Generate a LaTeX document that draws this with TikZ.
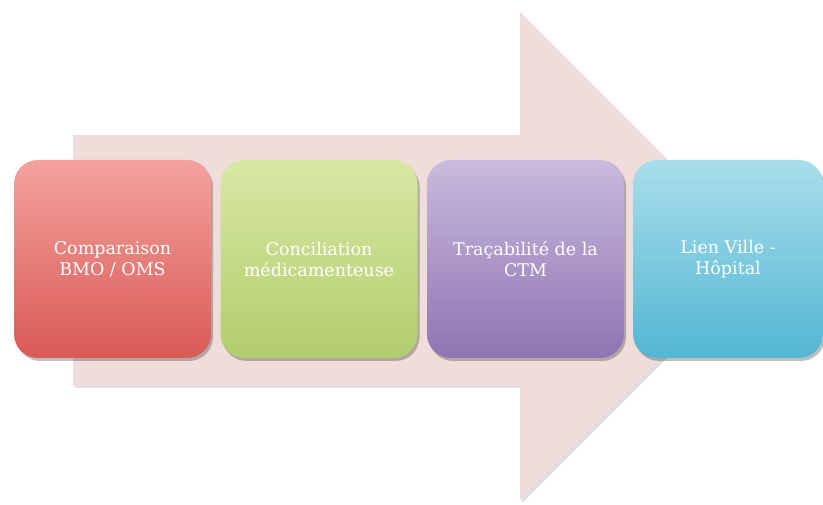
\documentclass[tikz,border=0pt]{standalone}
\usepackage{fontspec}
\setmainfont{DejaVu Serif}
\usetikzlibrary{shadows}
\definecolor{arrowfill}{HTML}{EEDDDB}
\definecolor{redtop}{HTML}{F4A29E}
\definecolor{redbot}{HTML}{D95A55}
\definecolor{greentop}{HTML}{D8E8A4}
\definecolor{greenbot}{HTML}{B2CD6C}
\definecolor{purpletop}{HTML}{CABADD}
\definecolor{purplebot}{HTML}{8E74B2}
\definecolor{cyantop}{HTML}{A9DEEB}
\definecolor{cyanbot}{HTML}{52B6D3}
\tikzset{
  stagebox/.style={rounded corners=24pt, minimum width=197pt, minimum height=198pt,
    inner sep=0pt, text=white, align=center, font=\fontsize{17.5pt}{21pt}\selectfont,
    drop shadow={shadow xshift=2pt, shadow yshift=-3pt, opacity=0.25, fill=black}},
}
\begin{document}
\begin{tikzpicture}[x=1pt,y=-1pt]
\useasboundingbox (0,0) rectangle (823,505);
\fill[white] (0,0) rectangle (823,505);
% big arrow
\fill[black!25, opacity=0.5] (75,138) -- (522,138) -- (522,15) -- (766,259) -- (522,503) -- (522,388) -- (75,388) -- cycle;
\fill[arrowfill] (73,135) -- (520,135) -- (520,12) -- (764,256) -- (520,500) -- (520,386) -- (73,386) -- cycle;
% boxes
\node[stagebox, top color=redtop, bottom color=redbot] (b1) at (112.5,259) {Comparaison\\BMO / OMS};
\node[stagebox, top color=greentop, bottom color=greenbot] (b2) at (319,259) {Conciliation\\médicamenteuse};
\node[stagebox, top color=purpletop, bottom color=purplebot] (b3) at (525.5,259) {Traçabilité de la\\CTM};
\node[stagebox, top color=cyantop, bottom color=cyanbot, minimum width=190pt] (b4) at (728,259) {Lien Ville -\\Hôpital};
\end{tikzpicture}
\end{document}
